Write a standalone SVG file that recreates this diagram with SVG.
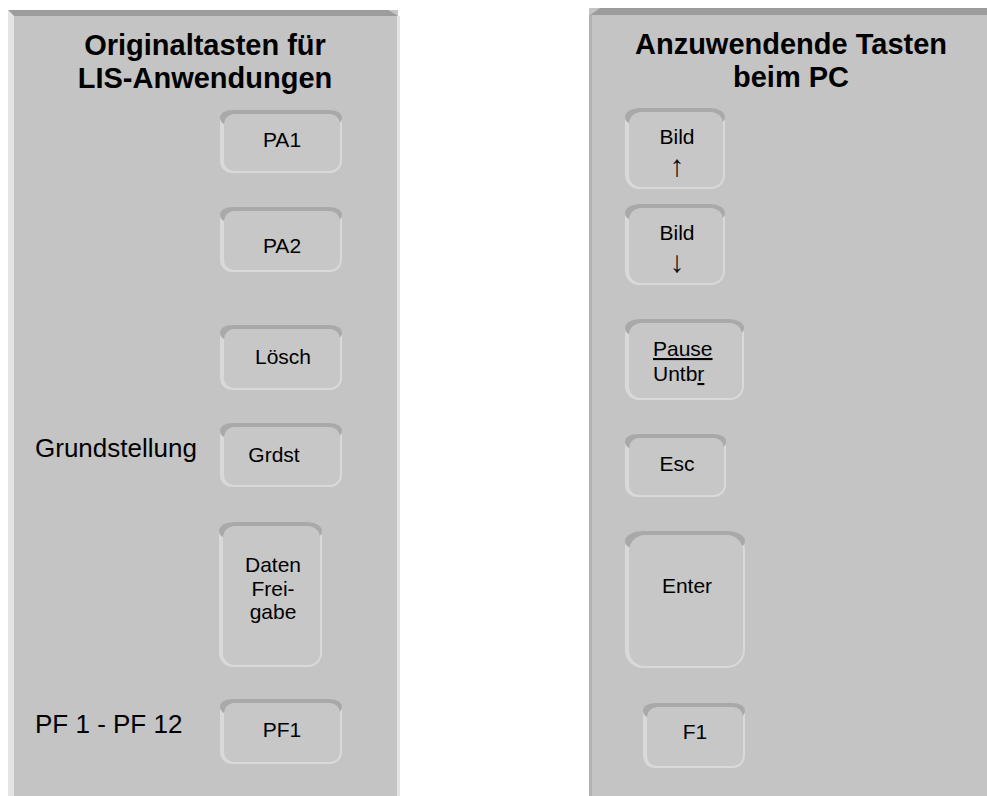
<svg xmlns="http://www.w3.org/2000/svg" width="987" height="796" viewBox="0 0 987 796">
<style>
text{font-family:"Liberation Sans",Arial,"DejaVu Sans",sans-serif;fill:#000}
.title{font-size:29px;font-weight:bold;text-anchor:middle}
.lbl{font-size:26px}
.k{font-size:21px;text-anchor:middle}
.kl{font-size:21px}
.arr{font-size:30px;text-anchor:middle;fill:#111}
.pbody{fill:#c4c4c4}
.ptop{fill:#9c9c9c}
.plight{fill:#e4e4e4}
.pdark{fill:#b2b2b2}
.kb{fill:#d9d9d9}
.kt{fill:#a9a9a9}
.kf{fill:#c7c7c7}
</style>
<rect width="987" height="796" fill="#ffffff"/>
<g id="panel-left">
<rect class="pbody" x="8" y="10" width="390" height="786"/>
<polygon class="ptop" points="8,10 388,10 398,16 14,16"/>
<polygon class="plight" points="8,10 14,16 14,796 8,796"/>
<rect class="plight" x="397" y="16" width="3" height="780"/>
<text class="title" x="205" y="55">Originaltasten für</text>
<text class="title" x="205" y="88">LIS-Anwendungen</text>
</g>
<g id="panel-right">
<rect class="pbody" x="589" y="8" width="398" height="788"/>
<polygon class="ptop" points="600,8 987,8 987,15 590,15"/>
<rect class="pdark" x="589" y="15" width="3" height="781"/>
<text class="title" x="791" y="54">Anzuwendende Tasten</text>
<text class="title" x="791" y="87">beim PC</text>
</g>
<g id="connectors"/>
<g id="key-pa1">
<rect class="kb" x="220" y="110" width="122" height="63" rx="12"/>
<rect class="kt" x="220" y="110" width="122" height="16" rx="12"/>
<rect class="kf" x="224" y="114" width="116" height="57" rx="10"/>
<text class="k" x="282" y="147">PA1</text>
</g>
<g id="key-pa2">
<rect class="kb" x="220" y="207" width="122" height="65" rx="12"/>
<rect class="kt" x="220" y="207" width="122" height="16" rx="12"/>
<rect class="kf" x="224" y="211" width="116" height="59" rx="10"/>
<text class="k" x="282" y="253">PA2</text>
</g>
<g id="key-loesch">
<rect class="kb" x="220" y="325" width="122" height="65" rx="12"/>
<rect class="kt" x="220" y="325" width="122" height="16" rx="12"/>
<rect class="kf" x="224" y="329" width="116" height="59" rx="10"/>
<text class="k" x="283" y="364">Lösch</text>
</g>
<g id="key-grdst">
<text class="lbl" x="35" y="457">Grundstellung</text>
<rect class="kb" x="220" y="423" width="122" height="64" rx="12"/>
<rect class="kt" x="220" y="423" width="122" height="16" rx="12"/>
<rect class="kf" x="224" y="427" width="116" height="58" rx="10"/>
<text class="k" x="274" y="462">Grdst</text>
</g>
<g id="key-daten">
<rect class="kb" x="219" y="522" width="103" height="145" rx="14"/>
<rect class="kt" x="219" y="522" width="103" height="18" rx="14"/>
<rect class="kf" x="223" y="526" width="97" height="139" rx="12"/>
<text class="k" x="273" y="572">Daten</text>
<text class="k" x="273" y="596">Frei-</text>
<text class="k" x="273" y="619">gabe</text>
</g>
<g id="key-pf1">
<text class="lbl" x="35" y="733">PF 1 - PF 12</text>
<rect class="kb" x="220" y="699" width="122" height="65" rx="12"/>
<rect class="kt" x="220" y="699" width="122" height="16" rx="12"/>
<rect class="kf" x="224" y="703" width="116" height="59" rx="10"/>
<text class="k" x="282" y="737">PF1</text>
</g>
<g id="key-bild-up">
<rect class="kb" x="625" y="108" width="100" height="81" rx="14"/>
<rect class="kt" x="625" y="108" width="100" height="18" rx="14"/>
<rect class="kf" x="629" y="112" width="94" height="75" rx="12"/>
<text class="k" x="677" y="144">Bild</text>
<text class="arr" x="677" y="176">↑</text>
</g>
<g id="key-bild-down">
<rect class="kb" x="625" y="204" width="100" height="81" rx="14"/>
<rect class="kt" x="625" y="204" width="100" height="18" rx="14"/>
<rect class="kf" x="629" y="208" width="94" height="75" rx="12"/>
<text class="k" x="677" y="240">Bild</text>
<text class="arr" x="677" y="272">↓</text>
</g>
<g id="key-pause">
<rect class="kb" x="625" y="319" width="119" height="81" rx="14"/>
<rect class="kt" x="625" y="319" width="119" height="18" rx="14"/>
<rect class="kf" x="629" y="323" width="113" height="75" rx="12"/>
<text class="kl" x="653" y="356" text-decoration="underline">Pause</text>
<text class="kl" x="653" y="381">Untb<tspan text-decoration="underline">r</tspan></text>
</g>
<g id="key-esc">
<rect class="kb" x="625" y="434" width="101" height="63" rx="12"/>
<rect class="kt" x="625" y="434" width="101" height="16" rx="12"/>
<rect class="kf" x="629" y="438" width="95" height="57" rx="10"/>
<text class="k" x="677" y="471">Esc</text>
</g>
<g id="key-enter">
<rect class="kb" x="625" y="531" width="120" height="137" rx="18"/>
<rect class="kt" x="625" y="531" width="120" height="20" rx="18"/>
<rect class="kf" x="629" y="535" width="114" height="131" rx="16"/>
<text class="k" x="687" y="593">Enter</text>
</g>
<g id="key-f1">
<rect class="kb" x="643" y="703" width="102" height="65" rx="12"/>
<rect class="kt" x="643" y="703" width="102" height="16" rx="12"/>
<rect class="kf" x="647" y="707" width="96" height="59" rx="10"/>
<text class="k" x="695" y="739">F1</text>
</g>
</svg>
